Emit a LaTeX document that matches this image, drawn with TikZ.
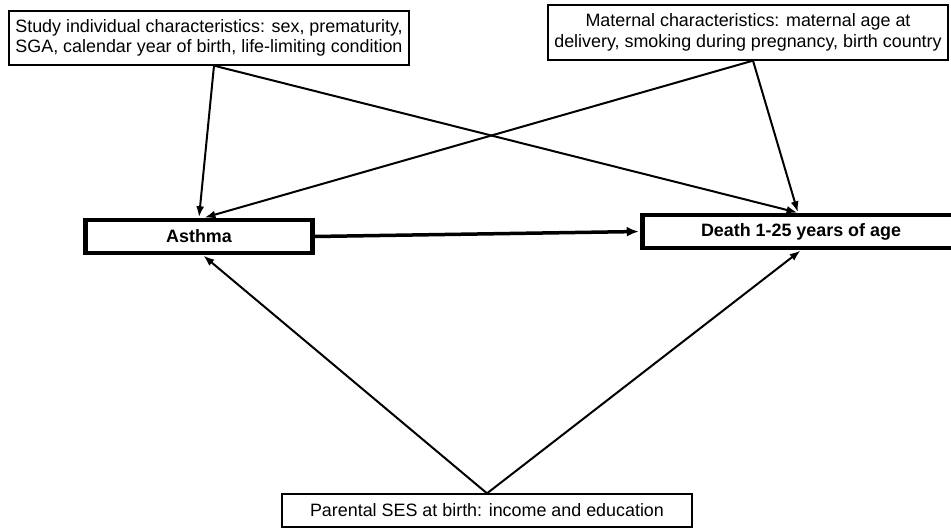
\documentclass[tikz,border=0pt]{standalone}
\usepackage{fontspec}
\setmainfont{Liberation Sans}
\usetikzlibrary{shapes,arrows,arrows.meta}

\begin{document}
\begin{tikzpicture}[x=1pt,y=-1pt,auto,
    block_factor/.style ={rectangle, draw=black, line width=1.3pt, fill=white,
      align=center, inner sep=1pt,
      font=\fontsize{17.9}{20.5}\selectfont},
    block_main/.style ={rectangle, draw=black, line width=4.5pt, fill=white,
      text centered, inner sep=0pt, minimum height=33pt,
      font=\bfseries\fontsize{17.9}{20.5}\selectfont},
    line/.style ={draw, line width=2pt, -{Latex[length=11pt,width=8pt]}, shorten >=0.5pt},
    line_main/.style ={draw, line width=3.5pt, -{Latex[length=12pt,width=10pt]}, shorten >=1.5pt}]
    \clip (0,0) rectangle (951,529);
    % confounders - top row
    \node [block_factor, minimum width=400pt, minimum height=54pt] (study) at (209,38)
      {Study individual characteristics: sex, prematurity,\\SGA, calendar year of birth, life-limiting condition};
    \node [block_factor, minimum width=400pt, minimum height=55pt] (maternal) at (748,32.5)
      {Maternal characteristics: maternal age at\\delivery, smoking during pregnancy, birth country};
    % exposure and outcome - middle row
    \node [block_main, minimum width=227pt] (asthma) at (199,236.5) {Asthma};
    \node [block_main, minimum width=317pt] (death) at (801,231.5) {Death 1-25 years of age};
    % confounder - bottom row
    \node [block_factor, minimum width=410pt, minimum height=33pt] (ses) at (487,510.5)
      {Parental SES at birth: income and education};
    % connecting nodes with paths
    \begin{scope}[every path/.style=line]
     \path ([xshift=5pt]study.south) -- (asthma.north);
     \path ([xshift=5pt]study.south) -- ([xshift=-3pt]death.north);
     \path ([xshift=5pt]maternal.south) -- ([xshift=5pt]asthma.north);
     \path ([xshift=5pt]maternal.south) -- ([xshift=-3pt]death.north);
     \path (ses.north) -- ([xshift=4pt]asthma.south);
     \path (ses.north) -- (death.south);
    \end{scope}
    \path [line_main] (asthma.east) -- (death.west);
  \end{tikzpicture}
\end{document}
